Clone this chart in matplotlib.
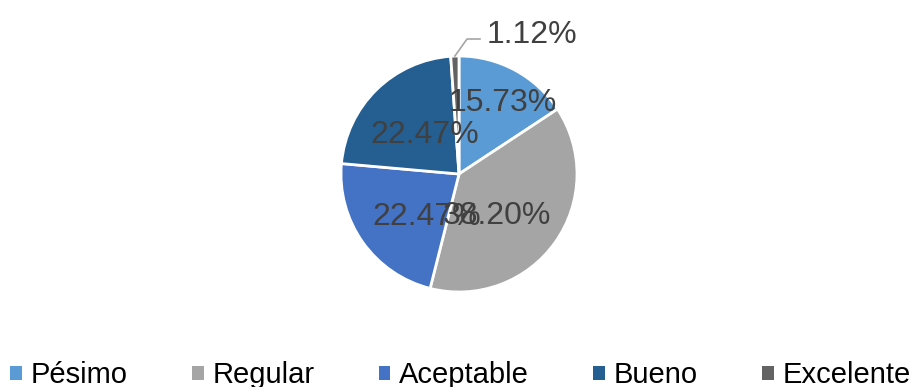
import numpy as np
import matplotlib

matplotlib.use("Agg")
import matplotlib.pyplot as plt
from matplotlib.patches import Patch

categories = ["Pésimo", "Regular", "Aceptable", "Bueno", "Excelente"]
values = [15.73, 38.20, 22.47, 22.47, 1.12]
colors = ["#5B9BD5", "#A5A5A5", "#4472C4", "#255E91", "#636363"]
# placement of each inside label: fraction of radius, angle shift (deg, clockwise)
label_radius = [0.73, 0.46, 0.43, 0.46]
label_shift = [2.4, 10.3, -15.2, 5.5]

plt.rcParams["font.family"] = ["Liberation Sans", "DejaVu Sans"]

W, H = 912, 387
fig = plt.figure(figsize=(W / 100, H / 100), dpi=100)
cx, cy, r = 459, 174, 118
ax = fig.add_axes([(cx - r) / W, (H - cy - r) / H, 2 * r / W, 2 * r / H])

wedges, _ = ax.pie(values, colors=colors, startangle=90, counterclock=False,
                   wedgeprops=dict(edgecolor="white", linewidth=2))
ax.set_xlim(-1, 1)
ax.set_ylim(-1, 1)
ax.set_aspect("equal")

text_color = "#404040"
for w, v, rad, sh in zip(wedges[:4], values[:4], label_radius, label_shift):
    mid = np.deg2rad((w.theta1 + w.theta2) / 2 - sh)
    ax.text(rad * np.cos(mid), rad * np.sin(mid), f"{v:.2f}%", ha="center",
            va="center_baseline", fontsize=23, color=text_color)

# small slice: label outside with leader line
w = wedges[4]
mid = np.deg2rad((w.theta1 + w.theta2) / 2)
x0, y0 = np.cos(mid), np.sin(mid)
ax.plot([x0, 0.068, 0.178], [y0, 1.144, 1.144], color="#A6A6A6", lw=1.2,
        clip_on=False)
ax.text(0.237, 1.21, f"{values[4]:.2f}%", ha="left", va="center_baseline",
        fontsize=23, color=text_color)

handles = [Patch(facecolor=c, edgecolor="none") for c in colors]
fig.legend(handles, categories, loc="center", bbox_to_anchor=(0.505, 0.03),
           ncol=5, frameon=False, fontsize=21, handlelength=0.4,
           handleheight=0.4, handletextpad=0.3, columnspacing=2.2,
           labelcolor="black")

fig.savefig("out.png", dpi=100)
